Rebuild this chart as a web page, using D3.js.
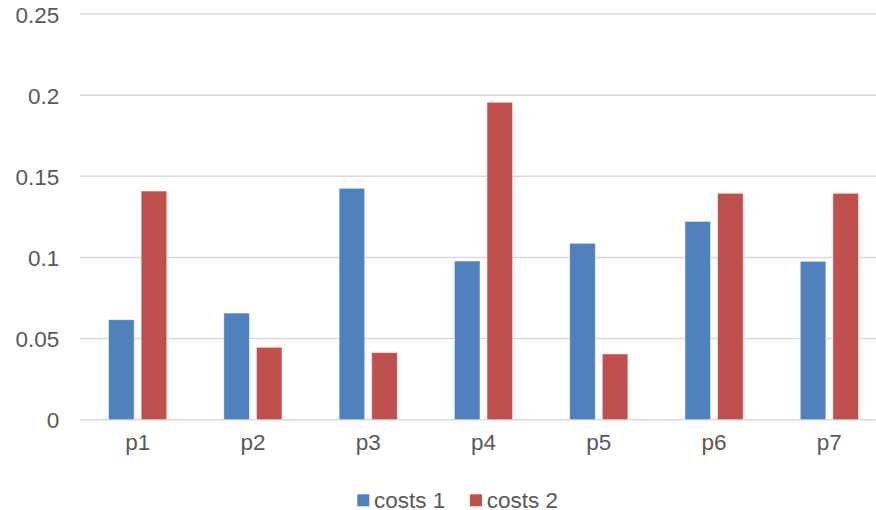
<!DOCTYPE html>
<html>
<head>
<meta charset="utf-8">
<script src="https://cdn.jsdelivr.net/npm/d3@7"></script>
<style>
  html, body { margin: 0; padding: 0; background: #fff; }
  svg { display: block; font-family: "Liberation Sans", Arial, sans-serif; }
</style>
</head>
<body>
<svg id="chart" width="876" height="510"></svg>
<script>
// Categories and series values
const categories = ["p1", "p2", "p3", "p4", "p5", "p6", "p7"];
const seriesNames = ["costs 1", "costs 2"];
const costs1 = [0.0616, 0.0657, 0.1426, 0.0978, 0.1087, 0.1222, 0.0976];
const costs2 = [0.1409, 0.0446, 0.0413, 0.1956, 0.0405, 0.1395, 0.1395];
const yTicks = [0, 0.05, 0.1, 0.15, 0.2, 0.25];
const colors = ["#4F81BD", "#C0504D"];

const svg = d3.select("#chart");
const fontSize = 22.5;
const textColor = "#595959";

const x = d3.scaleBand().domain(categories).range([80, 887]);
const x1 = d3.scaleBand().domain(seriesNames).range([x.bandwidth() / 2 - 29.1, x.bandwidth() / 2 + 29.1]).paddingInner(0.215);
const y = d3.scaleLinear().domain([0, 0.25]).range([419.7, 14]);

// Horizontal gridlines
const yAxis = d3.axisLeft(y).tickValues(yTicks).tickFormat(d => String(+d.toFixed(2))).tickSize(0).tickPadding(20.7);
const gy = svg.append("g").attr("transform", "translate(80,0)").call(yAxis);
gy.select(".domain").remove();
gy.selectAll(".tick line").remove();
gy.selectAll(".tick text").attr("fill", textColor).attr("font-size", fontSize).attr("font-family", null).attr("dy", "0.36em");

svg.append("g").selectAll("line").data(yTicks).join("line")
  .attr("x1", 80).attr("x2", 876)
  .attr("y1", d => y(d)).attr("y2", d => y(d))
  .attr("stroke", "#D9D9D9").attr("stroke-width", 1.5);

// Bars
const rows = categories.map((c, i) => ({ cat: c, vals: [costs1[i], costs2[i]] }));
const groups = svg.append("g").selectAll("g").data(rows).join("g")
  .attr("transform", d => `translate(${x(d.cat)},0)`);
groups.selectAll("rect").data(d => d.vals.map((v, j) => ({ name: seriesNames[j], v, j })))
  .join("rect")
  .attr("x", d => x1(d.name))
  .attr("width", x1.bandwidth())
  .attr("y", d => y(d.v))
  .attr("height", d => y(0) - y(d.v))
  .attr("fill", d => colors[d.j])
  .attr("stroke", "rgba(255,255,255,0.6)")
  .attr("stroke-width", 0.8);

// Category labels
const xAxis = d3.axisBottom(x).tickSize(0).tickPadding(14);
const gx = svg.append("g").attr("transform", `translate(0,${y(0)})`).call(xAxis);
gx.select(".domain").remove();
gx.selectAll(".tick text").attr("fill", textColor).attr("font-size", fontSize).attr("font-family", null);

// Legend
const legendX = [357.3, 470];
const legend = svg.append("g").selectAll("g").data(seriesNames).join("g")
  .attr("transform", (d, i) => `translate(${legendX[i]},494.3)`);
legend.append("rect").attr("width", 12).attr("height", 12).attr("fill", (d, i) => colors[i]);
legend.append("text").attr("x", 16.7).attr("y", 13.4)
  .attr("fill", textColor).attr("font-size", fontSize).text(d => d);
</script>
</body>
</html>
